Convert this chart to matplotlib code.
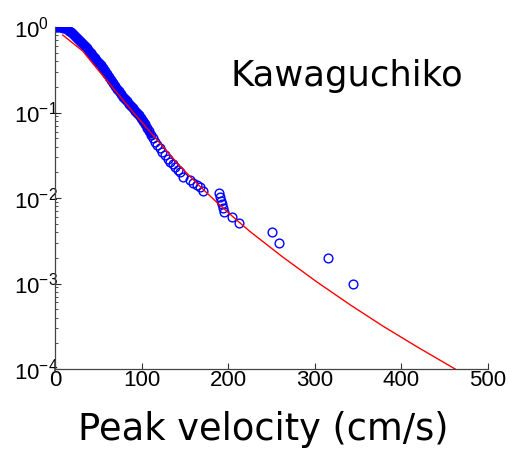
import matplotlib
matplotlib.use("Agg")
import matplotlib.pyplot as plt
from matplotlib.ticker import LogLocator, NullFormatter

# observed peak velocities (cm/s) and exceedance probability
VELOCITY = [
    0.0, 2.3, 4.6, 6.9, 9.2, 11.5, 13.9, 16.2, 18.5, 20.8,
    23.1, 25.4, 27.7, 30.0, 32.3, 34.6, 37.0, 39.3, 41.6, 43.9,
    46.2, 48.5, 50.8, 53.1, 55.4, 57.7, 60.0, 62.4, 64.7, 67.0,
    69.3, 71.6, 73.9, 76.2, 78.5, 80.8, 83.1, 85.5, 87.8, 90.1,
    92.4, 94.7, 97.0, 99.3, 101.6, 103.9, 106.2, 108.5, 110.9, 113.2,
    115.5, 117.8, 121.2, 123.6, 127.0, 130.5, 132.8, 136.3, 138.6, 142.0,
    144.3, 148.2, 155.9, 159.7, 164.0, 167.4, 170.5, 189.4, 190.5, 191.7,
    193.2, 194.0, 195.2, 204.0, 212.5, 250.2, 259.0, 315.6, 344.5,
]
EXCEEDANCE = [
    1.0, 1.0, 1.0, 0.992, 0.981, 0.966, 0.942, 0.910, 0.874, 0.835,
    0.796, 0.754, 0.714, 0.676, 0.638, 0.600, 0.564, 0.530, 0.497, 0.464,
    0.434, 0.406, 0.379, 0.357, 0.331, 0.305, 0.282, 0.260, 0.241, 0.222,
    0.205, 0.191, 0.178, 0.166, 0.154, 0.143, 0.135, 0.126, 0.119, 0.112,
    0.105, 0.0987, 0.0928, 0.0862, 0.0795, 0.0733, 0.0666, 0.0604, 0.0548, 0.0498,
    0.0452, 0.0422, 0.0381, 0.0350, 0.0318, 0.0290, 0.0266, 0.0247, 0.0232, 0.0215,
    0.0203, 0.0177, 0.0162, 0.0151, 0.0142, 0.0133, 0.0122, 0.0113, 0.0102, 0.0093,
    0.0085, 0.0077, 0.0069, 0.0060, 0.0051, 0.0040, 0.0030, 0.0020, 0.0010,
]
DENSE_UNTIL = 49  # points before this index overlap into a solid band

# fitted curve
FIT_VELOCITY = [9, 32, 46, 69, 92, 121, 144, 167, 190, 210, 225, 263, 302, 341, 379, 418, 462]
FIT_EXCEEDANCE = [0.806, 0.524, 0.350, 0.183, 0.096, 0.044, 0.0237, 0.0138, 0.00832, 0.00550,
                  0.00407, 0.00204, 0.00105, 0.000562, 0.000316, 0.000182, 0.0001]

X_TICKS = [0, 100, 200, 300, 400, 500]
Y_TICKS = [1e-4, 1e-3, 1e-2, 1e-1, 1e0]
Y_LABELS = [r"$\mathregular{10^{-4}}$", r"$\mathregular{10^{-3}}$", r"$\mathregular{10^{-2}}$",
            r"$\mathregular{10^{-1}}$", r"$\mathregular{10^{0}}$"]

plt.rcParams["font.family"] = "Liberation Sans"
plt.rcParams["mathtext.fontset"] = "custom"
plt.rcParams["mathtext.rm"] = "Liberation Sans"

blue = "#0000ff"
red = "#ff0000"

fig = plt.figure(figsize=(5.15, 4.51), dpi=100)
ax = fig.add_axes([0.1068, 0.1818, 0.8408, 0.7582])

# the many overlapping circles at low velocity read as a solid band
ax.plot(VELOCITY[:DENSE_UNTIL], EXCEEDANCE[:DENSE_UNTIL], color=blue, linewidth=5.5,
        solid_capstyle="round", solid_joinstyle="round", zorder=2)
ax.plot(VELOCITY, EXCEEDANCE, linestyle="none", marker="o", markersize=6.3,
        markerfacecolor="none", markeredgecolor=blue, markeredgewidth=1.0, zorder=2)
ax.plot(FIT_VELOCITY, FIT_EXCEEDANCE, color=red, linewidth=1.0, zorder=3)

ax.set_yscale("log")
ax.set_xlim(0, 500)
ax.set_ylim(1e-4, 1)
ax.set_xticks(X_TICKS)
ax.set_xticklabels([str(t) for t in X_TICKS])
ax.set_yticks(Y_TICKS)
ax.set_yticklabels(Y_LABELS)
ax.yaxis.set_minor_locator(LogLocator(base=10, subs=range(2, 10)))
ax.yaxis.set_minor_formatter(NullFormatter())

ax.tick_params(axis="both", which="major", direction="in", length=4, width=0.8,
               labelsize=16, colors="#333333", labelcolor="black")
ax.tick_params(axis="x", which="major", pad=1)
ax.tick_params(axis="y", which="major", pad=29.5)
for label in ax.get_yticklabels():
    label.set_horizontalalignment("left")
ax.tick_params(axis="y", which="minor", direction="in", length=2.5, width=0.6, colors="#333333")
ax.spines[["top", "right"]].set_visible(False)
ax.spines[["left", "bottom"]].set_color("#444444")
ax.spines[["left", "bottom"]].set_linewidth(0.9)

ax.text(0.675, 0.8275, "Kawaguchiko", transform=ax.transAxes, fontsize=25.5,
        family="DejaVu Sans", ha="center", va="baseline")
ax.set_xlabel("Peak velocity (cm/s)", fontsize=26.5, family="DejaVu Sans", va="baseline")
ax.xaxis.set_label_coords(0.4815, -0.2076)

fig.savefig("out.png", dpi=100)
